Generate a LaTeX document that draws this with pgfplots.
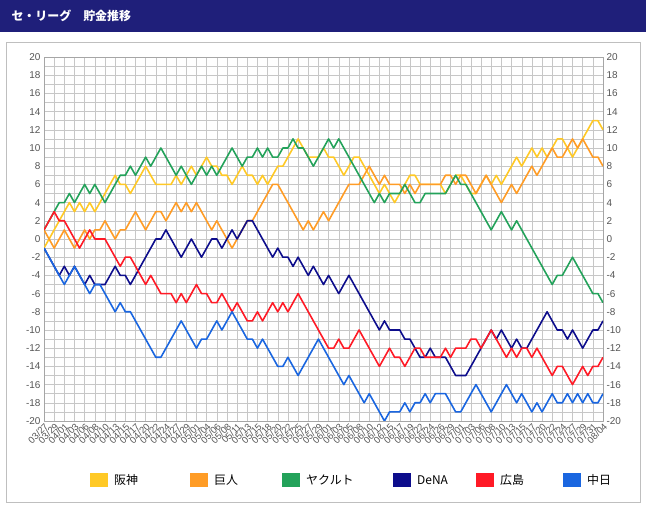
\documentclass[border=0pt]{standalone}
\usepackage{pgfplots}
\pgfplotsset{compat=1.18}
\usepackage{fontspec}
\setmainfont{Liberation Sans}
\newfontfamily\cjk{Noto Sans CJK JP}
\definecolor{hdr}{HTML}{1F1F7A}
\definecolor{cHan}{HTML}{FFC926}
\definecolor{cGia}{HTML}{FF9C26}
\definecolor{cYak}{HTML}{23A25A}
\definecolor{cDe}{HTML}{0D0D8C}
\definecolor{cHir}{HTML}{FF1A26}
\definecolor{cChu}{HTML}{1A66E0}
\definecolor{tk}{HTML}{555555}
\begin{document}
\begin{tikzpicture}[x=1bp,y=1bp]
\path[use as bounding box] (0,0) rectangle (646,506);
\fill[hdr] (0,474) rectangle (646,506);
\node[anchor=west,text=white,font=\cjk\bfseries\fontsize{12}{14}\selectfont] at (8,490) {セ・リーグ　貯金推移};
\draw[black!25] (6,4) rectangle (640,464);
\begin{axis}[at={(44bp,85bp)},anchor=south west,scale only axis,width=559bp,height=364bp,
 xmin=0,xmax=110,ymin=-20,ymax=20,
 ytick={-20,-18,...,20},minor ytick={-19,-17,...,19},
 xtick={0,2,...,110},
 xticklabels={03/27,03/29,04/01,04/03,04/06,04/08,04/10,04/13,04/15,04/17,04/20,04/22,04/24,04/27,04/29,05/01,05/04,05/06,05/08,05/11,05/13,05/15,05/18,05/20,05/22,05/25,05/27,05/29,06/01,06/03,06/05,06/08,06/10,06/12,06/15,06/17,06/19,06/22,06/24,06/26,06/29,07/01,07/03,07/06,07/08,07/10,07/13,07/15,07/17,07/20,07/22,07/24,07/27,07/29,07/31,08/04},
 x tick label style={rotate=45,anchor=north east,font=\fontsize{9.5}{9.5}\selectfont,text=tk,inner sep=1pt},
 y tick label style={font=\fontsize{10}{10}\selectfont,text=tk},
 /pgf/number format/assume math mode=true,
 grid=both,major grid style={black!22},minor grid style={black!22},
 axis line style={black!35},tick style={draw=none},
 line join=round, every axis plot/.append style={line width=1.6pt,mark=none},
 extra y ticks={0},extra y tick labels={},extra y tick style={grid style={black!55,line width=0.6pt}},
 ]
\addplot[cHan] coordinates {(0,-1)(1,0)(2,1)(3,2)(4,3)(5,4)(6,3)(7,4)(8,3)(9,4)(10,3)(11,4)(12,5)(13,6)(14,7)(15,6)(16,6)(17,5)(18,6)(19,7)(20,8)(21,7)(22,6)(23,6)(24,6)(25,6)(26,7)(27,6)(28,7)(29,8)(30,7)(31,8)(32,9)(33,8)(34,8)(35,7)(36,7)(37,6)(38,7)(39,8)(40,7)(41,7)(42,6)(43,7)(44,6)(45,7)(46,8)(47,8)(48,9)(49,10)(50,11)(51,10)(52,9)(53,9)(54,9)(55,10)(56,9)(57,9)(58,8)(59,7)(60,8)(61,9)(62,9)(63,8)(64,7)(65,6)(66,5)(67,6)(68,5)(69,4)(70,5)(71,6)(72,7)(73,7)(74,6)(75,6)(76,6)(77,6)(78,6)(79,5)(80,6)(81,7)(82,7)(83,6)(84,5)(85,5)(86,6)(87,7)(88,6)(89,7)(90,6)(91,7)(92,8)(93,9)(94,8)(95,9)(96,10)(97,9)(98,10)(99,9)(100,10)(101,11)(102,11)(103,10)(104,9)(105,10)(106,11)(107,12)(108,13)(109,13)(110,12)};
\addplot[cGia] coordinates {(0,1)(1,0)(2,-1)(3,0)(4,1)(5,0)(6,-1)(7,0)(8,1)(9,0)(10,1)(11,1)(12,2)(13,1)(14,0)(15,1)(16,1)(17,2)(18,3)(19,2)(20,1)(21,2)(22,3)(23,3)(24,2)(25,3)(26,4)(27,3)(28,4)(29,3)(30,4)(31,3)(32,2)(33,1)(34,2)(35,1)(36,0)(37,-1)(38,0)(39,1)(40,2)(41,2)(42,3)(43,4)(44,5)(45,6)(46,6)(47,5)(48,4)(49,3)(50,2)(51,1)(52,2)(53,1)(54,2)(55,3)(56,2)(57,3)(58,4)(59,5)(60,6)(61,6)(62,6)(63,7)(64,8)(65,7)(66,6)(67,7)(68,6)(69,6)(70,6)(71,5)(72,6)(73,5)(74,6)(75,6)(76,6)(77,6)(78,6)(79,7)(80,7)(81,6)(82,7)(83,7)(84,6)(85,5)(86,6)(87,7)(88,6)(89,5)(90,4)(91,5)(92,6)(93,5)(94,6)(95,7)(96,8)(97,7)(98,8)(99,9)(100,10)(101,9)(102,9)(103,10)(104,11)(105,10)(106,11)(107,10)(108,9)(109,9)(110,8)};
\addplot[cYak] coordinates {(0,1)(1,2)(2,3)(3,4)(4,4)(5,5)(6,4)(7,5)(8,6)(9,5)(10,6)(11,5)(12,4)(13,5)(14,6)(15,7)(16,7)(17,8)(18,7)(19,8)(20,9)(21,8)(22,9)(23,10)(24,9)(25,8)(26,7)(27,8)(28,7)(29,6)(30,7)(31,8)(32,7)(33,8)(34,7)(35,8)(36,9)(37,10)(38,9)(39,8)(40,9)(41,9)(42,10)(43,9)(44,10)(45,9)(46,9)(47,10)(48,10)(49,11)(50,10)(51,10)(52,9)(53,8)(54,9)(55,10)(56,11)(57,10)(58,11)(59,10)(60,9)(61,8)(62,7)(63,6)(64,5)(65,4)(66,5)(67,4)(68,5)(69,5)(70,5)(71,6)(72,5)(73,4)(74,4)(75,5)(76,5)(77,5)(78,5)(79,5)(80,6)(81,7)(82,6)(83,6)(84,5)(85,4)(86,3)(87,2)(88,1)(89,2)(90,3)(91,2)(92,1)(93,2)(94,1)(95,0)(96,-1)(97,-2)(98,-3)(99,-4)(100,-5)(101,-4)(102,-4)(103,-3)(104,-2)(105,-3)(106,-4)(107,-5)(108,-6)(109,-6)(110,-7)};
\addplot[cDe] coordinates {(0,-1)(1,-2)(2,-3)(3,-4)(4,-3)(5,-4)(6,-3)(7,-4)(8,-5)(9,-4)(10,-5)(11,-5)(12,-5)(13,-4)(14,-3)(15,-4)(16,-4)(17,-5)(18,-4)(19,-3)(20,-2)(21,-1)(22,0)(23,0)(24,1)(25,0)(26,-1)(27,-2)(28,-1)(29,0)(30,-1)(31,-2)(32,-1)(33,0)(34,0)(35,-1)(36,0)(37,1)(38,0)(39,1)(40,2)(41,2)(42,1)(43,0)(44,-1)(45,-2)(46,-1)(47,-2)(48,-2)(49,-3)(50,-2)(51,-3)(52,-4)(53,-3)(54,-4)(55,-5)(56,-4)(57,-5)(58,-6)(59,-5)(60,-4)(61,-5)(62,-6)(63,-7)(64,-8)(65,-9)(66,-10)(67,-9)(68,-10)(69,-10)(70,-10)(71,-11)(72,-11)(73,-12)(74,-13)(75,-13)(76,-12)(77,-13)(78,-13)(79,-13)(80,-14)(81,-15)(82,-15)(83,-15)(84,-14)(85,-13)(86,-12)(87,-11)(88,-10)(89,-11)(90,-10)(91,-11)(92,-12)(93,-11)(94,-12)(95,-12)(96,-11)(97,-10)(98,-9)(99,-8)(100,-9)(101,-10)(102,-10)(103,-11)(104,-10)(105,-11)(106,-12)(107,-11)(108,-10)(109,-10)(110,-9)};
\addplot[cHir] coordinates {(0,1)(1,2)(2,3)(3,2)(4,2)(5,1)(6,0)(7,-1)(8,0)(9,1)(10,0)(11,0)(12,0)(13,-1)(14,-2)(15,-3)(16,-2)(17,-2)(18,-3)(19,-4)(20,-5)(21,-4)(22,-5)(23,-6)(24,-6)(25,-6)(26,-7)(27,-6)(28,-7)(29,-6)(30,-5)(31,-6)(32,-6)(33,-7)(34,-7)(35,-6)(36,-7)(37,-8)(38,-7)(39,-8)(40,-9)(41,-9)(42,-8)(43,-9)(44,-8)(45,-7)(46,-8)(47,-7)(48,-8)(49,-7)(50,-6)(51,-7)(52,-8)(53,-9)(54,-10)(55,-11)(56,-12)(57,-12)(58,-11)(59,-12)(60,-12)(61,-11)(62,-10)(63,-11)(64,-12)(65,-13)(66,-14)(67,-13)(68,-12)(69,-13)(70,-13)(71,-14)(72,-13)(73,-12)(74,-12)(75,-13)(76,-13)(77,-13)(78,-13)(79,-12)(80,-13)(81,-12)(82,-12)(83,-12)(84,-11)(85,-11)(86,-12)(87,-11)(88,-10)(89,-11)(90,-12)(91,-13)(92,-12)(93,-13)(94,-12)(95,-12)(96,-13)(97,-12)(98,-13)(99,-14)(100,-15)(101,-14)(102,-14)(103,-15)(104,-16)(105,-15)(106,-14)(107,-15)(108,-14)(109,-14)(110,-13)};
\addplot[cChu] coordinates {(0,-1)(1,-2)(2,-3)(3,-4)(4,-5)(5,-4)(6,-3)(7,-4)(8,-5)(9,-6)(10,-5)(11,-5)(12,-6)(13,-7)(14,-8)(15,-7)(16,-8)(17,-8)(18,-9)(19,-10)(20,-11)(21,-12)(22,-13)(23,-13)(24,-12)(25,-11)(26,-10)(27,-9)(28,-10)(29,-11)(30,-12)(31,-11)(32,-11)(33,-10)(34,-9)(35,-10)(36,-9)(37,-8)(38,-9)(39,-10)(40,-11)(41,-11)(42,-12)(43,-11)(44,-12)(45,-13)(46,-14)(47,-14)(48,-13)(49,-14)(50,-15)(51,-14)(52,-13)(53,-12)(54,-11)(55,-12)(56,-13)(57,-14)(58,-15)(59,-16)(60,-15)(61,-16)(62,-17)(63,-18)(64,-17)(65,-18)(66,-19)(67,-20)(68,-19)(69,-19)(70,-19)(71,-18)(72,-19)(73,-18)(74,-18)(75,-17)(76,-18)(77,-17)(78,-17)(79,-17)(80,-18)(81,-19)(82,-19)(83,-18)(84,-17)(85,-16)(86,-17)(87,-18)(88,-19)(89,-18)(90,-17)(91,-16)(92,-17)(93,-18)(94,-17)(95,-18)(96,-19)(97,-18)(98,-19)(99,-18)(100,-17)(101,-18)(102,-18)(103,-17)(104,-18)(105,-17)(106,-18)(107,-17)(108,-18)(109,-18)(110,-17)};
\end{axis}
\begin{axis}[at={(44bp,85bp)},anchor=south west,scale only axis,width=559bp,height=364bp,
 xmin=0,xmax=110,ymin=-20,ymax=20,axis y line*=right,axis x line=none,
 ytick={-20,-18,...,20},tick style={draw=none},axis line style={draw=none},
 y tick label style={font=\fontsize{10}{10}\selectfont,text=tk},
 /pgf/number format/assume math mode=true]
\end{axis}
\foreach \c/\t/\x in {cHan/阪神/90,cGia/巨人/190,cYak/ヤクルト/282,cDe/DeNA/393,cHir/広島/476,cChu/中日/563}{
 \fill[\c] (\x,19) rectangle (\x+18,33);
 \node[anchor=west,font=\cjk\fontsize{12}{14}\selectfont,inner sep=0pt] at (\x+24,26) {\t};
}
\end{tikzpicture}
\end{document}
